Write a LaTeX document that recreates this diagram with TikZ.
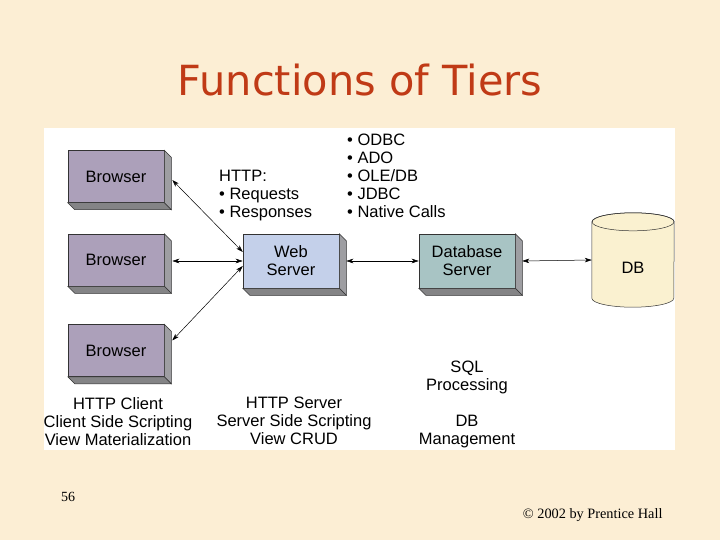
\documentclass[tikz,border=0pt]{standalone}
\usepackage{fontspec}
\setmainfont{Liberation Sans}
\newfontfamily\titlefont{DejaVu Sans}
\newfontfamily\footfont{Liberation Serif}
\usetikzlibrary{arrows.meta, positioning, shapes.geometric}
\definecolor{paperColor}{RGB}{252,238,212}
\definecolor{titleColor}{RGB}{192,58,22}
\definecolor{browserColor}{RGB}{172,160,186}
\definecolor{webColor}{RGB}{196,208,234}
\definecolor{dbsColor}{RGB}{168,196,196}
\definecolor{sideColor}{RGB}{158,158,162}
\definecolor{baseColor}{RGB}{132,132,134}
\definecolor{dbColor}{RGB}{250,241,208}

% right and bottom faces of a box node
\newcommand{\boxsides}[1]{%
    \filldraw[fill=sideColor, draw=black!80, line width=0.5pt] (#1.north east) -- ([shift={(7,7)}]#1.north east) -- ([shift={(7,7)}]#1.south east) -- (#1.south east) -- cycle;
    \filldraw[fill=baseColor, draw=black!80, line width=0.5pt] (#1.south west) -- (#1.south east) -- ([shift={(7,7)}]#1.south east) -- ([shift={(7,7)}]#1.south west) -- cycle;
}

\begin{document}
\begin{tikzpicture}[
    x=1pt, y=-1pt,
    tier/.style={rectangle, draw=black!80, line width=0.5pt, minimum width=96pt, minimum height=52pt, inner sep=0pt, align=center, font=\fontsize{16.5}{18}\selectfont},
    note/.style={inner sep=0pt, font=\fontsize{16.5}{18}\selectfont},
    link/.style={{Stealth[length=7pt,width=4.5pt,inset=2pt]}-{Stealth[length=7pt,width=4.5pt,inset=2pt]}, line width=0.5pt}
]
    % Slide
    \fill[paperColor] (0,0) rectangle (720,540);
    \fill[white] (44,128) rectangle (675,450);
    \node[font=\titlefont\fontsize{41.5}{44}\selectfont, text=titleColor] (title) at (360,80) {Functions of Tiers};

    % Browsers
    \node[tier, fill=browserColor] (b1) at (116,176.5) {Browser};
    \node[tier, fill=browserColor] (b2) at (116,260) {Browser};
    \node[tier, fill=browserColor] (b3) at (116,350.5) {Browser};
    \boxsides{b1}
    \boxsides{b2}
    \boxsides{b3}

    % Servers
    \node[tier, fill=webColor, minimum height=54pt] (web) at (291,261) {Web\\Server};
    \node[tier, fill=dbsColor, minimum height=54pt] (dbs) at (467,261) {Database\\Server};
    \boxsides{web}
    \boxsides{dbs}

    % Database
    \node[inner sep=0pt, minimum width=82pt, minimum height=76pt] (db) at (633,260) {};
    \filldraw[fill=dbColor, draw=black!80, line width=0.5pt] (db.north west) -- (db.south west)
        arc[start angle=180, end angle=360, x radius=41pt, y radius=9pt] -- (db.north east)
        arc[start angle=0, end angle=180, x radius=41pt, y radius=9pt] -- cycle;
    \draw[draw=black!80, line width=0.5pt] (db.north) ellipse [x radius=41pt, y radius=9pt];
    \node[note] (dbname) at ([yshift=-8pt]db.center) {DB};

    % Arrows
    \draw[link] ([shift={(8,3.5)}]b1.east) -- ([shift={(0,-9)}]web.west);
    \draw[link] ([shift={(8,1)}]b2.east) -- (web.west);
    \draw[link] ([shift={(8,-10)}]b3.east) -- ([shift={(0,5)}]web.west);
    \draw[link] ([xshift=7pt]web.east) -- (dbs.west);
    \draw[link] ([xshift=7pt]dbs.east) -- (db.west);

    % Protocol notes
    \node[note, anchor=north west, align=left] (http) at (219,170) {HTTP:\\\textbullet\ Requests\\\textbullet\ Responses};
    \node[note, anchor=north west, align=left] (apis) at (347,134) {\textbullet\ ODBC\\\textbullet\ ADO\\\textbullet\ OLE/DB\\\textbullet\ JDBC\\\textbullet\ Native Calls};

    % Tier functions
    \node[note, anchor=north, align=center] (client) at (118,397) {HTTP Client\\Client Side Scripting\\View Materialization};
    \node[note, anchor=north, align=center] (server) at (294,397) {HTTP Server\\Server Side Scripting\\View CRUD};
    \node[note, anchor=north, align=center] (sql) at (467,361) {SQL\\Processing};
    \node[note, anchor=north, align=center] (dbm) at (467,415) {DB\\Management};

    % Footer
    \node[font=\footfont\fontsize{14}{16}\selectfont] (page) at (68,497) {56};
    \node[font=\footfont\fontsize{14.3}{16}\selectfont, anchor=east] (copy) at (666,515) {\textcopyright\ 2002 by Prentice Hall};
\end{tikzpicture}
\end{document}
